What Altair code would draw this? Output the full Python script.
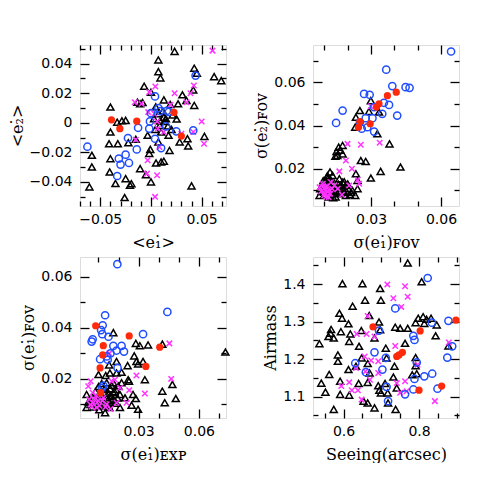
import altair as alt
import pandas as pd

# ---------------- Panel 1: <e1> vs <e2> ----------------
P1_TRI_X = [0.0233, 0.0073, 0.0073, 0.0093, 0.0427, 0.0623, 0.0693, -0.0067, 0.0, 0.0417, 0.031, 0.035,
            0.0427, 0.0127, 0.019, 0.0267, -0.0133, -0.0107, 0.0117, 0.0077, 0.0127, 0.0133, 0.0167, 0.0173,
            0.01, 0.0073, -0.04, -0.0333, -0.025, -0.04, -0.0413, -0.0327, -0.0223, -0.015, -0.0033, 0.0367,
            0.0527, -0.0583, -0.0583, -0.0607, -0.04, -0.0407, -0.035, -0.025, -0.0207, -0.026, -0.0107, -0.005,
            0.0, -0.0007, 0.005, 0.01, 0.0127, 0.04, 0.0183, 0.0283, 0.036, 0.0047, 0.0213, 0.0453, -0.0287,
            -0.0193, 0.003, 0.0087, 0.0147, 0.0203, -0.0017, 0.0043, 0.009, -0.0083, 0.0253]
P1_TRI_Y = [0.0483, 0.0425, 0.0346, 0.0303, 0.0369, 0.0312, 0.0285, 0.0247, 0.0207, 0.0222, 0.0189, 0.0151,
            0.0117, 0.0155, 0.0124, 0.0128, 0.0139, 0.0128, 0.0079, 0.0061, 0.0038, 0.0009, -0.0022, -0.0085,
            -0.0063, -0.013, 0.0106, 0.0004, 0.0016, -0.0063, -0.0142, -0.0142, -0.0135, -0.0112, -0.0085, -0.0157,
            -0.0092, -0.022, -0.0299, -0.0434, -0.0243, -0.0333, -0.0411, -0.0378, -0.0422, -0.0506, -0.031, -0.0351,
            -0.04, -0.018, -0.0272, -0.0265, -0.026, -0.0427, -0.0187, -0.013, -0.0108, 0.0108, 0.0052, 0.0335,
            0.0013, -0.0412, 0.0027, -0.0018, 0.0027, -0.0045, -0.0207, -0.0045, 0.0012, 0.0137, 0.0025]
P1_CRO_X = [0.0607, 0.0423, 0.039, 0.0043, -0.0017, -0.016, 0.0233, 0.035, -0.0027, 0.0033, 0.006, 0.0067,
            0.0127, 0.03, 0.0417, 0.05, 0.0523, 0.0083, -0.0033, -0.004, 0.006, 0.004, -0.015, -0.0093, 0.0193]
P1_CRO_Y = [0.0488, 0.0252, 0.02, 0.0245, 0.0207, 0.0139, 0.02, 0.0139, 0.0072, 0.0061, 0.0009, -0.004,
            -0.0063, -0.0074, -0.0063, 0.0009, -0.0142, -0.0164, -0.0254, -0.0344, -0.0355, -0.0501, -0.0115,
            0.0128, 0.0122]
P1_BLU_X = [-0.0627, 0.004, 0.0073, 0.0, 0.009, 0.0157, 0.0177, -0.001, -0.0017, 0.004, 0.01, 0.015, 0.025,
            0.0417, 0.044, -0.0127, -0.0227, -0.014, -0.025, -0.0317, -0.03, -0.0217, -0.0333]
P1_BLU_Y = [-0.0162, 0.0178, 0.0099, 0.0065, 0.0079, 0.0081, 0.0074, 0.0009, -0.004, -0.0108, -0.0171, -0.0025,
            -0.0058, -0.0052, 0.0319, -0.0034, -0.0103, -0.018, -0.0216, -0.0243, -0.0283, -0.0272, -0.036]
P1_RED_X = [-0.039, -0.0307, -0.014, 0.0227, 0.030]
P1_RED_Y = [0.002, -0.004, 0.0011, 0.007, -0.009]

# ---------------- Panel 2: sigma(e1)_FOV vs sigma(e2)_FOV ----------------
P2_TRI_X = [0.0252, 0.0291, 0.0299, 0.0235, 0.0232, 0.0334, 0.0327, 0.0379, 0.0161, 0.0152, 0.0147, 0.0178,
            0.0256, 0.0277, 0.0426, 0.0299, 0.0341, 0.0235, 0.0242, 0.0124, 0.0135, 0.0164, 0.0178, 0.0192,
            0.0107, 0.009, 0.0082, 0.0099, 0.0121, 0.0143, 0.0164, 0.0178, 0.0185, 0.0203, 0.022, 0.0209,
            0.0192, 0.0138, 0.0079, 0.0114, 0.0124, 0.0157, 0.0242, 0.0232, 0.0178, 0.0168, 0.0155, 0.0113,
            0.0095, 0.0105, 0.0115, 0.0128, 0.0140, 0.0150, 0.0160, 0.0170, 0.0185, 0.0195, 0.0088, 0.0100,
            0.0118, 0.0132, 0.0148, 0.0172, 0.0200, 0.0215, 0.0110, 0.0126]
P2_TRI_Y = [0.0469, 0.0465, 0.0515, 0.0438, 0.0392, 0.0462, 0.0362, 0.0315, 0.030, 0.028, 0.0258, 0.0269,
            0.0238, 0.0234, 0.0208, 0.0157, 0.0188, 0.0177, 0.0146, 0.0185, 0.0169, 0.0154, 0.0138, 0.0123,
            0.0138, 0.0123, 0.0108, 0.0092, 0.0108, 0.0095, 0.0115, 0.0108, 0.0092, 0.0108, 0.010, 0.008,
            0.0077, 0.0066, 0.0077, 0.0154, 0.0077, 0.0085, 0.0108, 0.0077, 0.0308, 0.0286, 0.0262, 0.0168,
            0.0145, 0.0100, 0.0130, 0.0115, 0.0138, 0.0100, 0.0128, 0.0088, 0.0140, 0.0095, 0.0095, 0.0080,
            0.0070, 0.0100, 0.0070, 0.0125, 0.0130, 0.0090, 0.0160, 0.0150]
P2_CRO_X = [0.0299, 0.0199, 0.0256, 0.0337, 0.0192, 0.0218, 0.0164, 0.0242, 0.0249, 0.0093, 0.0107, 0.0114,
            0.0099, 0.0124, 0.0133, 0.0086, 0.0143, 0.0157, 0.0118, 0.0079, 0.0175, 0.0206, 0.0104, 0.0128,
            0.0090, 0.0100, 0.0112, 0.0122, 0.0108, 0.0095]
P2_CRO_Y = [0.0489, 0.0315, 0.0311, 0.032, 0.0238, 0.020, 0.0188, 0.0149, 0.0131, 0.0131, 0.0115, 0.0095,
            0.0077, 0.0085, 0.0108, 0.0095, 0.0123, 0.0108, 0.0069, 0.0115, 0.008, 0.0123, 0.0102, 0.0138,
            0.0100, 0.0088, 0.0120, 0.0100, 0.0072, 0.0118]
P2_BLU_X = [0.0643, 0.0365, 0.027, 0.0294, 0.0178, 0.015, 0.0391, 0.0448, 0.0465, 0.0355, 0.0377, 0.0313,
            0.0348, 0.0306, 0.0277, 0.0252, 0.026, 0.0284, 0.0313, 0.0412]
P2_BLU_Y = [0.0742, 0.0658, 0.0546, 0.0542, 0.0469, 0.0412, 0.0582, 0.0577, 0.0574, 0.0505, 0.0495, 0.0485,
            0.0454, 0.0434, 0.0434, 0.0415, 0.0385, 0.0392, 0.0372, 0.0446]
P2_RED_X = [0.0408, 0.037, 0.0334, 0.0323, 0.0252, 0.0246, 0.0296]
P2_RED_Y = [0.0554, 0.0538, 0.050, 0.0485, 0.0418, 0.0392, 0.0408]

# ---------------- Panel 3: sigma(e1)_EXP vs sigma(e1)_FOV ----------------
P3_TRI_X = [0.0732, 0.0174, 0.0286, 0.0306, 0.0347, 0.0418, 0.0278, 0.0289, 0.0297, 0.0322, 0.0331, 0.0245,
            0.019, 0.0153, 0.01, 0.0136, 0.0157, 0.019, 0.0215, 0.0248, 0.0252, 0.0272, 0.0286, 0.0297,
            0.0265, 0.0418, 0.043, 0.0468, 0.0485, 0.0041, 0.0041, 0.0061, 0.0082, 0.0091, 0.0107, 0.0104,
            0.0124, 0.0141, 0.0149, 0.0157, 0.0166, 0.0174, 0.0187, 0.0199, 0.0207, 0.0182, 0.0154, 0.0133,
            0.0207, 0.0215, 0.0174, 0.0141, 0.0116, 0.0157, 0.0232,
            0.0060, 0.0075, 0.0085, 0.0095, 0.0110, 0.0120, 0.0130, 0.0145, 0.0160, 0.0170, 0.0180, 0.0195,
            0.0050, 0.0070, 0.0100, 0.0115, 0.0135, 0.0150, 0.0165, 0.0185]
P3_TRI_Y = [0.0305, 0.0381, 0.0339, 0.033, 0.0333, 0.0336, 0.029, 0.0268, 0.0258, 0.0268, 0.0197, 0.0252,
            0.0268, 0.0255, 0.0217, 0.0213, 0.0223, 0.0223, 0.0226, 0.0197, 0.0191, 0.0139, 0.0123, 0.0081,
            0.0097, 0.0152, 0.0107, 0.0178, 0.0123, 0.0139, 0.0088, 0.0114, 0.0107, 0.0126, 0.0094, 0.0079,
            0.0107, 0.0126, 0.0146, 0.0107, 0.013, 0.0146, 0.0159, 0.0172, 0.0139, 0.0114, 0.0088, 0.0068,
            0.0088, 0.0185, 0.0185, 0.0185, 0.0182, 0.0162, 0.0126,
            0.0100, 0.0125, 0.0150, 0.0110, 0.0140, 0.0120, 0.0160, 0.0115, 0.0135, 0.0120, 0.0150, 0.0125,
            0.0110, 0.0090, 0.0170, 0.0100, 0.0145, 0.0095, 0.0175, 0.0105]
P3_CRO_X = [0.0453, 0.0289, 0.0462, 0.0331, 0.0061, 0.0154, 0.0166, 0.0182, 0.0207, 0.0253, 0.024, 0.0049,
            0.0071, 0.0054, 0.0074, 0.0066, 0.0091, 0.0124, 0.0099, 0.0141, 0.016, 0.019,
            0.0060, 0.0080, 0.0105, 0.0120, 0.0090, 0.0135]
P3_CRO_Y = [0.0339, 0.0213, 0.020, 0.0143, 0.0191, 0.030, 0.0191, 0.0197, 0.0165, 0.0156, 0.0107, 0.0171,
            0.0146, 0.012, 0.0107, 0.0092, 0.0088, 0.0126, 0.0114, 0.0101, 0.0082, 0.0107,
            0.0100, 0.0120, 0.0095, 0.0115, 0.0135, 0.0090]
P3_BLU_X = [0.0194, 0.0443, 0.0133, 0.0121, 0.0113, 0.0119, 0.015, 0.0071, 0.0066, 0.0174, 0.0215, 0.019,
            0.0227, 0.0322, 0.016, 0.0141, 0.0146, 0.0108, 0.0195, 0.0124, 0.0118]
P3_BLU_Y = [0.0649, 0.0462, 0.0449, 0.041, 0.0391, 0.0375, 0.0365, 0.0355, 0.0346, 0.0329, 0.0329, 0.0311,
            0.0307, 0.0375, 0.030, 0.0288, 0.0275, 0.0277, 0.0243, 0.0174, 0.0165]
P3_RED_X = [0.0086, 0.0253, 0.0124, 0.0121, 0.0108, 0.0336, 0.0405, 0.0111]
P3_RED_Y = [0.0408, 0.0368, 0.033, 0.0294, 0.0243, 0.0249, 0.0324, 0.0146]

# ---------------- Panel 4: Seeing vs Airmass ----------------
P4_TRI_X = [0.770, 0.807, 0.597, 0.650, 0.697, 0.699, 0.657, 0.624, 0.589, 0.596, 0.613, 0.567, 0.565, 0.574,
            0.560, 0.593, 0.618, 0.585, 0.536, 0.647, 0.668, 0.694, 0.697, 0.682, 0.641, 0.615, 0.648, 0.664,
            0.633, 0.613, 0.585, 0.562, 0.541, 0.552, 0.591, 0.591, 0.615, 0.640, 0.664, 0.669, 0.653, 0.664,
            0.682, 0.574, 0.692, 0.695, 0.699, 0.710, 0.717, 0.718, 0.712, 0.714, 0.735, 0.732, 0.741, 0.737,
            0.750, 0.770, 0.763, 0.738, 0.791, 0.791, 0.794, 0.782, 0.791, 0.798, 0.811, 0.820, 0.814, 0.832,
            0.847, 0.844, 0.878]
P4_TRI_Y = [1.456, 1.406, 1.401, 1.401, 1.388, 1.357, 1.357, 1.341, 1.322, 1.309, 1.294, 1.279, 1.269, 1.256,
            1.260, 1.273, 1.267, 1.211, 1.241, 1.276, 1.316, 1.299, 1.278, 1.256, 1.234, 1.247, 1.203, 1.188,
            1.181, 1.172, 1.194, 1.159, 1.136, 1.112, 1.141, 1.106, 1.104, 1.135, 1.138, 1.163, 1.088, 1.083,
            1.070, 1.066, 1.129, 1.117, 1.110, 1.135, 1.110, 1.083, 1.229, 1.203, 1.181, 1.152, 1.123, 1.285,
            1.282, 1.282, 1.242, 1.066, 1.204, 1.182, 1.161, 1.158, 1.297, 1.309, 1.313, 1.306, 1.295, 1.309,
            1.291, 1.262, 1.235]
P4_CRO_X = [0.716, 0.763, 0.770, 0.732, 0.753, 0.664, 0.661, 0.682, 0.635, 0.737, 0.656, 0.673, 0.692, 0.633,
            0.658, 0.692, 0.615, 0.594, 0.622, 0.638, 0.648, 0.670, 0.741, 0.750, 0.763, 0.767, 0.796, 0.879,
            0.842]
P4_CRO_Y = [1.399, 1.394, 1.366, 1.362, 1.339, 1.315, 1.267, 1.260, 1.267, 1.235, 1.207, 1.196, 1.194, 1.176,
            1.167, 1.163, 1.138, 1.128, 1.117, 1.117, 1.092, 1.145, 1.136, 1.110, 1.141, 1.114, 1.185, 1.244,
            1.088]
P4_BLU_X = [0.823, 0.737, 0.694, 0.682, 0.712, 0.631, 0.659, 0.703, 0.714, 0.718, 0.763, 0.785, 0.788, 0.794,
            0.788, 0.814, 0.835, 0.785, 0.849, 0.834, 0.878, 0.888, 0.875]
P4_BLU_Y = [1.416, 1.335, 1.276, 1.218, 1.203, 1.189, 1.165, 1.172, 1.126, 1.088, 1.106, 1.262, 1.251, 1.191,
            1.147, 1.154, 1.161, 1.119, 1.121, 1.297, 1.302, 1.234, 1.204]
P4_RED_X = [0.678, 0.803, 0.898, 0.741, 0.747, 0.756, 0.800, 0.860]
P4_RED_Y = [1.286, 1.275, 1.304, 1.207, 1.211, 1.218, 1.117, 1.128]

# ---------------- axes: domains and tick values ----------------
P1_XDOM, P1_YDOM = [-0.070, 0.074], [-0.0563, 0.0526]
P1_XMAJ, P1_XMIN = [-0.05, 0.0, 0.05], [-0.07, -0.06, -0.04, -0.03, -0.02, -0.01, 0.01, 0.02, 0.03, 0.04, 0.06, 0.07]
P1_YMAJ, P1_YMIN = [-0.04, -0.02, 0.0, 0.02, 0.04], [-0.05, -0.03, -0.01, 0.01, 0.03, 0.05]

P2_XDOM, P2_YDOM = [0.0051, 0.0677], [0.0028, 0.0772]
P2_XMAJ, P2_XMIN = [0.03, 0.06], [0.01, 0.02, 0.04, 0.05]
P2_YMAJ, P2_YMIN = [0.02, 0.04, 0.06], [0.01, 0.03, 0.05, 0.07]

P3_XDOM, P3_YDOM = [0.0008, 0.0735], [0.0047, 0.0677]
P3_XMAJ, P3_XMIN = [0.03, 0.06], [0.01, 0.02, 0.04, 0.05, 0.07]
P3_YMAJ, P3_YMIN = [0.02, 0.04, 0.06], [0.01, 0.03, 0.05]

P4_XDOM, P4_YDOM = [0.519, 0.906], [1.043, 1.472]
P4_XMAJ, P4_XMIN = [0.6, 0.8], [0.55, 0.65, 0.7, 0.75, 0.85, 0.9]
P4_YMAJ, P4_YMIN = [1.1, 1.2, 1.3, 1.4], [1.05, 1.15, 1.25, 1.35, 1.45]

TITLES = {
    1: ("<e₁̇>", "<e₂̇>"),
    2: ("σ(e₁̇)ꜰᴏᴠ", "σ(e₂̇)ꜰᴏᴠ"),
    3: ("σ(e₁̇)ᴇxᴘ", "σ(e₁̇)ꜰᴏᴠ"),
    4: ("Seeing(arcsec)", "Airmass"),
}

W, H = 146, 161
MAJ, MIN = 9, 5
LABEL_FONT = "DejaVu Sans"
TITLE_FONT = "DejaVu Serif"
CROSS = "M-1,-1L1,1M-1,1L1,-1"


def axis(orient, values, size, labels=False, title=None, fmt="~g"):
    kw = dict(orient=orient, values=values, tickSize=size, offset=-size, domain=False, grid=False,
              ticks=True, tickColor="black", tickWidth=1.3, labels=labels, title=title)
    if labels:
        kw.update(format=fmt, labelFont=LABEL_FONT, labelFontSize=14, labelColor="black",
                  labelPadding=6 if orient == "bottom" else 8, labelFlush=False, labelOverlap=False)
    if title:
        kw.update(titleFont=TITLE_FONT, titleFontSize=16, titleFontWeight="normal", titleColor="black",
                  titlePadding=8 if orient == "bottom" else 4)
    return alt.Axis(**kw)


def panel(n, xdom, ydom, xmaj, xmin, ymaj, ymin, tri, cro, blu, red, fmt="~g"):
    xt, yt = TITLES[n]
    sx = alt.Scale(domain=xdom, nice=False, zero=False)
    sy = alt.Scale(domain=ydom, nice=False, zero=False)
    axes = [
        (axis("bottom", xmaj, MAJ, True, xt, fmt), axis("left", ymaj, MAJ, True, yt, fmt)),
        (axis("top", xmaj, MAJ), axis("right", ymaj, MAJ)),
        (axis("bottom", xmin, MIN), axis("left", ymin, MIN)),
        (axis("top", xmin, MIN), axis("right", ymin, MIN)),
    ]
    groups = [
        (tri, dict(shape="triangle-up", size=49, filled=False, color="black", strokeWidth=1.5)),
        (cro, dict(shape=CROSS, size=30, filled=False, color="#ff33ff", strokeWidth=1.5)),
        (blu, dict(shape="circle", size=52, filled=False, color="#1f4dff", strokeWidth=1.5)),
        (red, dict(shape="circle", size=52, filled=True, color="#ff2a0a", strokeWidth=0)),
    ]
    layers = []
    for (data, style), (ax, ay) in zip(groups, axes):
        df = pd.DataFrame({"x": data[0], "y": data[1]})
        layers.append(
            alt.Chart(df).mark_point(opacity=1, **style).encode(
                x=alt.X("x:Q", scale=sx, axis=ax),
                y=alt.Y("y:Q", scale=sy, axis=ay),
            )
        )
    return alt.layer(*layers).resolve_axis(x="independent", y="independent").properties(width=W, height=H)


p1 = panel(1, P1_XDOM, P1_YDOM, P1_XMAJ, P1_XMIN, P1_YMAJ, P1_YMIN,
           (P1_TRI_X, P1_TRI_Y), (P1_CRO_X, P1_CRO_Y), (P1_BLU_X, P1_BLU_Y), (P1_RED_X, P1_RED_Y))
p2 = panel(2, P2_XDOM, P2_YDOM, P2_XMAJ, P2_XMIN, P2_YMAJ, P2_YMIN,
           (P2_TRI_X, P2_TRI_Y), (P2_CRO_X, P2_CRO_Y), (P2_BLU_X, P2_BLU_Y), (P2_RED_X, P2_RED_Y))
p3 = panel(3, P3_XDOM, P3_YDOM, P3_XMAJ, P3_XMIN, P3_YMAJ, P3_YMIN,
           (P3_TRI_X, P3_TRI_Y), (P3_CRO_X, P3_CRO_Y), (P3_BLU_X, P3_BLU_Y), (P3_RED_X, P3_RED_Y))
p4 = panel(4, P4_XDOM, P4_YDOM, P4_XMAJ, P4_XMIN, P4_YMAJ, P4_YMIN,
           (P4_TRI_X, P4_TRI_Y), (P4_CRO_X, P4_CRO_Y), (P4_BLU_X, P4_BLU_Y), (P4_RED_X, P4_RED_Y))

chart = alt.concat(p1, p2, p3, p4, columns=2, spacing={"row": 4, "column": 20}).properties(
    padding={"top": 35, "left": 0, "right": 0, "bottom": 0}
).configure_view(stroke="black", strokeWidth=1.6).configure(background="white")

chart.save("out.html", embed_options={"renderer": "svg", "actions": False})
